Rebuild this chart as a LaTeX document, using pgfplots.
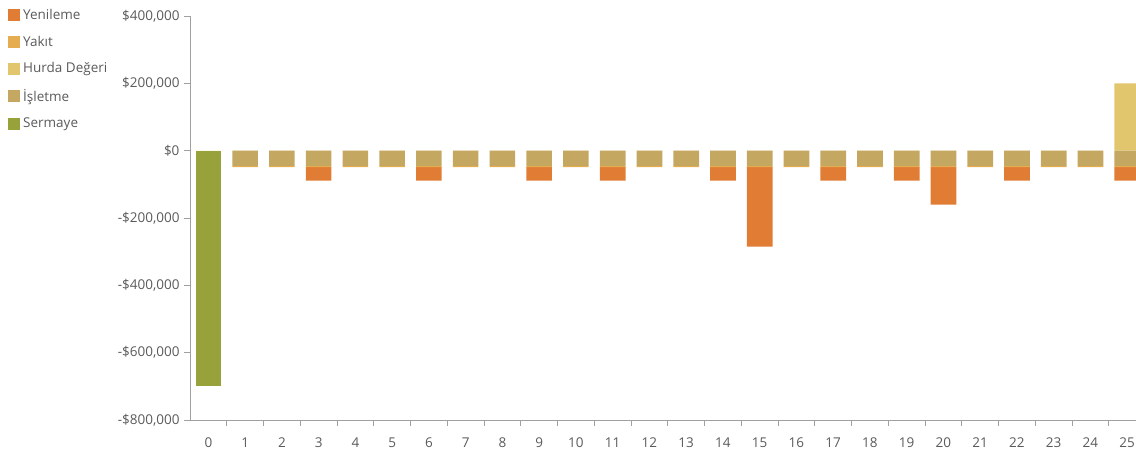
\documentclass[border=0pt]{standalone}
\usepackage{fontspec}
\setmainfont{Open Sans}
\usepackage{pgfplots}
\usepackage{pgfplotstable}
\pgfplotsset{compat=1.18}
\definecolor{cYen}{RGB}{224,124,52}
\definecolor{cYak}{RGB}{230,172,80}
\definecolor{cHur}{RGB}{226,198,110}
\definecolor{cIsl}{RGB}{196,168,98}
\definecolor{cSer}{RGB}{152,162,58}
\definecolor{axgray}{RGB}{160,160,160}
\definecolor{lblgray}{RGB}{90,90,90}
\pgfplotstableread{
year sermaye isletme yakit yenileme hurda
0  -700000 0 0 0 0
1  0 -45000 -4000 0 0
2  0 -45000 -4000 0 0
3  0 -45000 -4000 -40000 0
4  0 -45000 -4000 0 0
5  0 -45000 -4000 0 0
6  0 -45000 -4000 -40000 0
7  0 -45000 -4000 0 0
8  0 -45000 -4000 0 0
9  0 -45000 -4000 -40000 0
10 0 -45000 -4000 0 0
11 0 -45000 -4000 -40000 0
12 0 -45000 -4000 0 0
13 0 -45000 -4000 0 0
14 0 -45000 -4000 -40000 0
15 0 -45000 -4000 -236000 0
16 0 -45000 -4000 0 0
17 0 -45000 -4000 -40000 0
18 0 -45000 -4000 0 0
19 0 -45000 -4000 -40000 0
20 0 -45000 -4000 -111000 0
21 0 -45000 -4000 0 0
22 0 -45000 -4000 -40000 0
23 0 -45000 -4000 0 0
24 0 -45000 -4000 0 0
25 0 -45000 -4000 -40000 200000
}\data
\begin{document}
\begin{tikzpicture}
\path[use as bounding box] (-190pt,-35pt) rectangle (946pt,420pt);
\pgfplotsset{myax/.style={width=946pt,height=404pt,scale only axis,
  at={(0pt,0pt)},anchor=south west,
  xmin=-0.5,xmax=25.24,ymin=-800000,ymax=400000,
  bar width=25.7pt,clip=true}}
\begin{axis}[myax,
  axis x line=bottom, axis y line=left,
  axis line style={draw=axgray,line width=0.8pt,-},
  ytick={-800000,-600000,-400000,-200000,0,200000,400000},
  yticklabels={{-\$800,000},{-\$600,000},{-\$400,000},{-\$200,000},{\$0},{\$200,000},{\$400,000}},
  xtick={0,...,25},
  minor xtick={0.5,1.5,...,24.5},
  tick align=outside,
  major tick length=6pt, minor tick length=6pt,
  every tick/.style={draw=axgray,line width=0.8pt},
  major x tick style={draw=none},
  tick label style={font=\fontsize{13.5}{15}\selectfont,text=lblgray,
    /pgf/number format/assume math mode=true},
  xticklabel style={yshift=-8pt},
  yticklabel style={xshift=-1pt},
  scaled y ticks=false,
]
\addplot[ybar,bar shift=0pt,fill=cHur,draw=none,forget plot] table[x=year,y=hurda]{\data};
\end{axis}
\begin{axis}[myax,hide axis,ybar stacked,
  legend style={at={(-0.1924,1.02)},anchor=north west,draw=none,fill=none,
    font=\fontsize{13.5}{15}\selectfont,text=lblgray,row sep=13pt,
    inner xsep=0pt,inner ysep=0pt,nodes={inner sep=1pt}},
  legend cell align=left,
  legend image code/.code={\fill[#1] (0pt,-6pt) rectangle (12pt,6pt); \path (14pt,0pt);},
]
\addplot[fill=cSer,draw=none,forget plot] table[x=year,y=sermaye]{\data};
\addplot[fill=cIsl,draw=none,forget plot] table[x=year,y=isletme]{\data};
\addplot[fill=cYak,draw=none,forget plot] table[x=year,y=yakit]{\data};
\addplot[fill=cYen,draw=none,forget plot] table[x=year,y=yenileme]{\data};
\addlegendimage{fill=cYen,draw=none}\addlegendentry{Yenileme}
\addlegendimage{fill=cYak,draw=none}\addlegendentry{Yakıt}
\addlegendimage{fill=cHur,draw=none}\addlegendentry{Hurda Değeri}
\addlegendimage{fill=cIsl,draw=none}\addlegendentry{İşletme}
\addlegendimage{fill=cSer,draw=none}\addlegendentry{Sermaye}
\end{axis}
\end{tikzpicture}
\end{document}
